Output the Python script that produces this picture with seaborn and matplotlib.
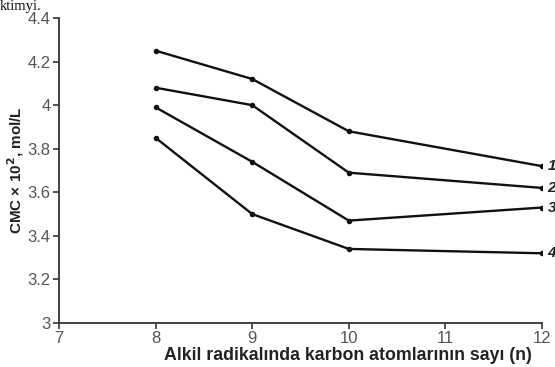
import matplotlib
matplotlib.use("Agg")
import matplotlib.pyplot as plt
import seaborn as sns
import pandas as pd

# Number of carbon atoms in the alkyl radical
carbons = [8, 9, 10, 12]

# CMC x 10^2, mol/L for each surfactant series
cmc_1 = [4.25, 4.12, 3.88, 3.72]
cmc_2 = [4.08, 4.00, 3.69, 3.62]
cmc_3 = [3.99, 3.74, 3.47, 3.53]
cmc_4 = [3.85, 3.50, 3.34, 3.32]

series_labels = ["1", "2", "3", "4"]
x_ticks = [7, 8, 9, 10, 11, 12]
y_ticks = [3, 3.2, 3.4, 3.6, 3.8, 4, 4.2, 4.4]
y_tick_labels = ["3", "3.2", "3.4", "3.6", "3.8", "4", "4.2", "4.4"]

rows = []
for lab, vals in zip(series_labels, [cmc_1, cmc_2, cmc_3, cmc_4]):
    for n, v in zip(carbons, vals):
        rows.append({"n": n, "cmc": v, "series": lab})
df = pd.DataFrame(rows)

sns.set_style("ticks")
plt.rcParams["font.family"] = ["Liberation Sans", "DejaVu Sans"]

fig = plt.figure(figsize=(5.55, 3.67), dpi=100)
ax = fig.add_axes([59 / 555, 1 - 323 / 367, (542 - 59) / 555, (323 - 18) / 367])

sns.lineplot(data=df, x="n", y="cmc", units="series", estimator=None,
             color="#111111", linewidth=1.7, marker="o", markersize=4,
             markeredgewidth=0, ax=ax, legend=False)

ax.set_xlim(7, 12)
ax.set_ylim(3, 4.4)
ax.set_xticks(x_ticks)
ax.set_xticklabels([str(t) for t in x_ticks])
ax.set_yticks(y_ticks)
ax.set_yticklabels(y_tick_labels)

for side in ["top", "right"]:
    ax.spines[side].set_visible(False)
for side in ["left", "bottom"]:
    ax.spines[side].set_color("#333333")
    ax.spines[side].set_linewidth(1.3)
    ax.spines[side].set_clip_on(False)

ax.tick_params(axis="both", direction="out", length=4, width=1.2,
               color="#333333", labelcolor="#555555", labelsize=12, pad=2)

ax.set_xlabel("Alkil radikalında karbon atomlarının sayı (n)",
              fontsize=12.8, fontweight="bold", color="#222222")
ax.xaxis.set_label_coords(0.598, -0.078)
ax.set_ylabel("CMC × 10$^{\\mathbf{2}}$, mol/L", fontsize=11, fontweight="bold",
              color="#222222")
ax.yaxis.set_label_coords(-0.069, 0.5)

# Series numbers at the right end of each curve
for lab, vals in zip(series_labels, [cmc_1, cmc_2, cmc_3, cmc_4]):
    ax.annotate(lab, xy=(carbons[-1], vals[-1]), xytext=(4, 0),
                textcoords="offset points", va="center", ha="left",
                fontsize=11, fontweight="bold", fontstyle="italic",
                color="#222222", annotation_clip=False)

fig.text(0.0, 1 - 10 / 367, "ktimyi.", fontsize=10.5,
         family=["Liberation Serif", "DejaVu Serif"], va="baseline",
         ha="left", color="#111111")

fig.savefig("out.png", dpi=100, facecolor="white")
